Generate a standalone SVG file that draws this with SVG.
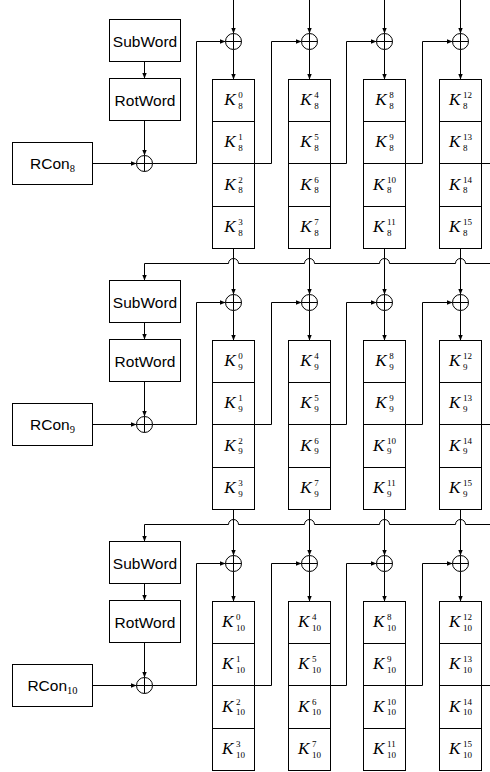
<svg xmlns="http://www.w3.org/2000/svg" width="490" height="772" viewBox="0 0 490 772">
<style>
.bx{fill:#fff;stroke:#000;stroke-width:1}
.ln{fill:none;stroke:#000;stroke-width:1}
.ar{marker-end:url(#ah)}
.sf{font-family:"Liberation Sans",Arial,sans-serif;font-size:15.5px;fill:#000;text-anchor:middle}
.sb{font-family:"Liberation Serif","Times New Roman",serif;font-size:10.5px}
.k{font-family:"Liberation Serif","Times New Roman",serif;font-style:italic;font-size:17px;fill:#000}
.s{font-style:normal;font-size:9px}
</style>
<defs>
<marker id="ah" viewBox="0 0 6 6" refX="6" refY="3" markerWidth="6" markerHeight="6" markerUnits="userSpaceOnUse" orient="auto"><path d="M0,0.6 L6,3 L0,5.4 z" fill="#000"/></marker>
<g id="xorsym"><circle r="8" class="bx"/><path class="ln" d="M-8,0H8M0,-8V8"/></g>
</defs>
<rect width="490" height="772" fill="#fff"/>

<g id="connectors">
 <g id="conn-r8">
  <path class="ln ar" d="M233.5,0V33.5"/>
  <path class="ln ar" d="M309.5,0V33.5"/>
  <path class="ln ar" d="M384.5,0V33.5"/>
  <path class="ln ar" d="M460.5,0V33.5"/>
 </g>
 <g id="conn-r9-in" transform="translate(0,261)">
  <path class="ln ar" d="M233.5,-12.5V33.5"/>
  <path class="ln ar" d="M309.5,-12.5V33.5"/>
  <path class="ln ar" d="M384.5,-12.5V33.5"/>
  <path class="ln ar" d="M460.5,-12.5V33.5"/>
  <path class="ln ar" d="M490,2.5H465.5A5,5 0 0 0 455.5,2.5H389.5A5,5 0 0 0 379.5,2.5H314.5A5,5 0 0 0 304.5,2.5H238.5A5,5 0 0 0 228.5,2.5H144.5V19.5"/>
 </g>
 <g id="conn-r10-in" transform="translate(0,522)">
  <path class="ln ar" d="M233.5,-12.5V33.5"/>
  <path class="ln ar" d="M309.5,-12.5V33.5"/>
  <path class="ln ar" d="M384.5,-12.5V33.5"/>
  <path class="ln ar" d="M460.5,-12.5V33.5"/>
  <path class="ln ar" d="M490,2.5H465.5A5,5 0 0 0 455.5,2.5H389.5A5,5 0 0 0 379.5,2.5H314.5A5,5 0 0 0 304.5,2.5H238.5A5,5 0 0 0 228.5,2.5H144.5V19.5"/>
 </g>
 <g id="conn-r8-body">
  <path class="ln ar" d="M144.5,61.5V78.5"/>
  <path class="ln ar" d="M144.5,120.5V155.5"/>
  <path class="ln ar" d="M92.5,163.5H136.5"/>
  <path class="ln ar" d="M152.5,163.5H196.5V41.5H225.5"/>
  <path class="ln ar" d="M254.5,163.5H271.5V41.5H301.5"/>
  <path class="ln ar" d="M330.5,163.5H346.5V41.5H376.5"/>
  <path class="ln ar" d="M405.5,163.5H422.5V41.5H452.5"/>
  <path class="ln" d="M481.5,163.5H490"/>
  <path class="ln ar" d="M233.5,49.5V79.5"/>
  <path class="ln ar" d="M309.5,49.5V79.5"/>
  <path class="ln ar" d="M384.5,49.5V79.5"/>
  <path class="ln ar" d="M460.5,49.5V79.5"/>
 </g>
 <g id="conn-r9-body" transform="translate(0,261)">
  <path class="ln ar" d="M144.5,61.5V78.5"/>
  <path class="ln ar" d="M144.5,120.5V155.5"/>
  <path class="ln ar" d="M92.5,163.5H136.5"/>
  <path class="ln ar" d="M152.5,163.5H196.5V41.5H225.5"/>
  <path class="ln ar" d="M254.5,163.5H271.5V41.5H301.5"/>
  <path class="ln ar" d="M330.5,163.5H346.5V41.5H376.5"/>
  <path class="ln ar" d="M405.5,163.5H422.5V41.5H452.5"/>
  <path class="ln" d="M481.5,163.5H490"/>
  <path class="ln ar" d="M233.5,49.5V79.5"/>
  <path class="ln ar" d="M309.5,49.5V79.5"/>
  <path class="ln ar" d="M384.5,49.5V79.5"/>
  <path class="ln ar" d="M460.5,49.5V79.5"/>
 </g>
 <g id="conn-r10-body" transform="translate(0,522)">
  <path class="ln ar" d="M144.5,61.5V78.5"/>
  <path class="ln ar" d="M144.5,120.5V155.5"/>
  <path class="ln ar" d="M92.5,163.5H136.5"/>
  <path class="ln ar" d="M152.5,163.5H196.5V41.5H225.5"/>
  <path class="ln ar" d="M254.5,163.5H271.5V41.5H301.5"/>
  <path class="ln ar" d="M330.5,163.5H346.5V41.5H376.5"/>
  <path class="ln ar" d="M405.5,163.5H422.5V41.5H452.5"/>
  <path class="ln" d="M481.5,163.5H490"/>
  <path class="ln ar" d="M233.5,49.5V79.5"/>
  <path class="ln ar" d="M309.5,49.5V79.5"/>
  <path class="ln ar" d="M384.5,49.5V79.5"/>
  <path class="ln ar" d="M460.5,49.5V79.5"/>
 </g>
</g>

<!-- Round 8 -->
<g id="round8">
 <g id="subword-8"><rect class="bx" x="109.5" y="19.5" width="71" height="42"/><text class="sf" x="145" y="46.5">SubWord</text></g>
 <g id="rotword-8"><rect class="bx" x="109.5" y="78.5" width="71" height="42"/><text class="sf" x="145" y="105.5">RotWord</text></g>
 <g id="rcon-8"><rect class="bx" x="12.5" y="142.5" width="80" height="42"/><text class="sf" x="52.5" y="169">RCon<tspan class="sb" dy="2.5">8</tspan></text></g>
 <g id="xor-8-r"><use href="#xorsym" x="144.5" y="163.5"/></g>
 <g id="xor-8-0"><use href="#xorsym" x="233.5" y="41.5"/></g>
 <g id="xor-8-1"><use href="#xorsym" x="309.5" y="41.5"/></g>
 <g id="xor-8-2"><use href="#xorsym" x="384.5" y="41.5"/></g>
 <g id="xor-8-3"><use href="#xorsym" x="460.5" y="41.5"/></g>
 <g id="k8-0"><rect class="bx" x="212.5" y="79.5" width="42" height="42"/><text class="k" x="224.25" y="105">K<tspan class="s" x="238.25" y="98">0</tspan><tspan class="s" x="238.25" y="108.5">8</tspan></text></g>
 <g id="k8-1"><rect class="bx" x="212.5" y="121.5" width="42" height="42"/><text class="k" x="224.25" y="147">K<tspan class="s" x="238.25" y="140">1</tspan><tspan class="s" x="238.25" y="150.5">8</tspan></text></g>
 <g id="k8-2"><rect class="bx" x="212.5" y="163.5" width="42" height="43"/><text class="k" x="224.25" y="189.5">K<tspan class="s" x="238.25" y="182.5">2</tspan><tspan class="s" x="238.25" y="193">8</tspan></text></g>
 <g id="k8-3"><rect class="bx" x="212.5" y="206.5" width="42" height="42"/><text class="k" x="224.25" y="232">K<tspan class="s" x="238.25" y="225">3</tspan><tspan class="s" x="238.25" y="235.5">8</tspan></text></g>
 <g id="k8-4"><rect class="bx" x="288.5" y="79.5" width="42" height="42"/><text class="k" x="300.25" y="105">K<tspan class="s" x="314.25" y="98">4</tspan><tspan class="s" x="314.25" y="108.5">8</tspan></text></g>
 <g id="k8-5"><rect class="bx" x="288.5" y="121.5" width="42" height="42"/><text class="k" x="300.25" y="147">K<tspan class="s" x="314.25" y="140">5</tspan><tspan class="s" x="314.25" y="150.5">8</tspan></text></g>
 <g id="k8-6"><rect class="bx" x="288.5" y="163.5" width="42" height="43"/><text class="k" x="300.25" y="189.5">K<tspan class="s" x="314.25" y="182.5">6</tspan><tspan class="s" x="314.25" y="193">8</tspan></text></g>
 <g id="k8-7"><rect class="bx" x="288.5" y="206.5" width="42" height="42"/><text class="k" x="300.25" y="232">K<tspan class="s" x="314.25" y="225">7</tspan><tspan class="s" x="314.25" y="235.5">8</tspan></text></g>
 <g id="k8-8"><rect class="bx" x="363.5" y="79.5" width="42" height="42"/><text class="k" x="375.25" y="105">K<tspan class="s" x="389.25" y="98">8</tspan><tspan class="s" x="389.25" y="108.5">8</tspan></text></g>
 <g id="k8-9"><rect class="bx" x="363.5" y="121.5" width="42" height="42"/><text class="k" x="375.25" y="147">K<tspan class="s" x="389.25" y="140">9</tspan><tspan class="s" x="389.25" y="150.5">8</tspan></text></g>
 <g id="k8-10"><rect class="bx" x="363.5" y="163.5" width="42" height="43"/><text class="k" x="373" y="189.5">K<tspan class="s" x="387" y="182.5">10</tspan><tspan class="s" x="387" y="193">8</tspan></text></g>
 <g id="k8-11"><rect class="bx" x="363.5" y="206.5" width="42" height="42"/><text class="k" x="373" y="232">K<tspan class="s" x="387" y="225">11</tspan><tspan class="s" x="387" y="235.5">8</tspan></text></g>
 <g id="k8-12"><rect class="bx" x="439.5" y="79.5" width="42" height="42"/><text class="k" x="449" y="105">K<tspan class="s" x="463" y="98">12</tspan><tspan class="s" x="463" y="108.5">8</tspan></text></g>
 <g id="k8-13"><rect class="bx" x="439.5" y="121.5" width="42" height="42"/><text class="k" x="449" y="147">K<tspan class="s" x="463" y="140">13</tspan><tspan class="s" x="463" y="150.5">8</tspan></text></g>
 <g id="k8-14"><rect class="bx" x="439.5" y="163.5" width="42" height="43"/><text class="k" x="449" y="189.5">K<tspan class="s" x="463" y="182.5">14</tspan><tspan class="s" x="463" y="193">8</tspan></text></g>
 <g id="k8-15"><rect class="bx" x="439.5" y="206.5" width="42" height="42"/><text class="k" x="449" y="232">K<tspan class="s" x="463" y="225">15</tspan><tspan class="s" x="463" y="235.5">8</tspan></text></g>
</g>

<!-- Round 9 -->
<g id="round9" transform="translate(0,261)">
 <g id="subword-9"><rect class="bx" x="109.5" y="19.5" width="71" height="42"/><text class="sf" x="145" y="46.5">SubWord</text></g>
 <g id="rotword-9"><rect class="bx" x="109.5" y="78.5" width="71" height="42"/><text class="sf" x="145" y="105.5">RotWord</text></g>
 <g id="rcon-9"><rect class="bx" x="12.5" y="142.5" width="80" height="42"/><text class="sf" x="52.5" y="169">RCon<tspan class="sb" dy="2.5">9</tspan></text></g>
 <g id="xor-9-r"><use href="#xorsym" x="144.5" y="163.5"/></g>
 <g id="xor-9-0"><use href="#xorsym" x="233.5" y="41.5"/></g>
 <g id="xor-9-1"><use href="#xorsym" x="309.5" y="41.5"/></g>
 <g id="xor-9-2"><use href="#xorsym" x="384.5" y="41.5"/></g>
 <g id="xor-9-3"><use href="#xorsym" x="460.5" y="41.5"/></g>
 <g id="k9-0"><rect class="bx" x="212.5" y="79.5" width="42" height="42"/><text class="k" x="224.25" y="105">K<tspan class="s" x="238.25" y="98">0</tspan><tspan class="s" x="238.25" y="108.5">9</tspan></text></g>
 <g id="k9-1"><rect class="bx" x="212.5" y="121.5" width="42" height="42"/><text class="k" x="224.25" y="147">K<tspan class="s" x="238.25" y="140">1</tspan><tspan class="s" x="238.25" y="150.5">9</tspan></text></g>
 <g id="k9-2"><rect class="bx" x="212.5" y="163.5" width="42" height="43"/><text class="k" x="224.25" y="189.5">K<tspan class="s" x="238.25" y="182.5">2</tspan><tspan class="s" x="238.25" y="193">9</tspan></text></g>
 <g id="k9-3"><rect class="bx" x="212.5" y="206.5" width="42" height="42"/><text class="k" x="224.25" y="232">K<tspan class="s" x="238.25" y="225">3</tspan><tspan class="s" x="238.25" y="235.5">9</tspan></text></g>
 <g id="k9-4"><rect class="bx" x="288.5" y="79.5" width="42" height="42"/><text class="k" x="300.25" y="105">K<tspan class="s" x="314.25" y="98">4</tspan><tspan class="s" x="314.25" y="108.5">9</tspan></text></g>
 <g id="k9-5"><rect class="bx" x="288.5" y="121.5" width="42" height="42"/><text class="k" x="300.25" y="147">K<tspan class="s" x="314.25" y="140">5</tspan><tspan class="s" x="314.25" y="150.5">9</tspan></text></g>
 <g id="k9-6"><rect class="bx" x="288.5" y="163.5" width="42" height="43"/><text class="k" x="300.25" y="189.5">K<tspan class="s" x="314.25" y="182.5">6</tspan><tspan class="s" x="314.25" y="193">9</tspan></text></g>
 <g id="k9-7"><rect class="bx" x="288.5" y="206.5" width="42" height="42"/><text class="k" x="300.25" y="232">K<tspan class="s" x="314.25" y="225">7</tspan><tspan class="s" x="314.25" y="235.5">9</tspan></text></g>
 <g id="k9-8"><rect class="bx" x="363.5" y="79.5" width="42" height="42"/><text class="k" x="375.25" y="105">K<tspan class="s" x="389.25" y="98">8</tspan><tspan class="s" x="389.25" y="108.5">9</tspan></text></g>
 <g id="k9-9"><rect class="bx" x="363.5" y="121.5" width="42" height="42"/><text class="k" x="375.25" y="147">K<tspan class="s" x="389.25" y="140">9</tspan><tspan class="s" x="389.25" y="150.5">9</tspan></text></g>
 <g id="k9-10"><rect class="bx" x="363.5" y="163.5" width="42" height="43"/><text class="k" x="373" y="189.5">K<tspan class="s" x="387" y="182.5">10</tspan><tspan class="s" x="387" y="193">9</tspan></text></g>
 <g id="k9-11"><rect class="bx" x="363.5" y="206.5" width="42" height="42"/><text class="k" x="373" y="232">K<tspan class="s" x="387" y="225">11</tspan><tspan class="s" x="387" y="235.5">9</tspan></text></g>
 <g id="k9-12"><rect class="bx" x="439.5" y="79.5" width="42" height="42"/><text class="k" x="449" y="105">K<tspan class="s" x="463" y="98">12</tspan><tspan class="s" x="463" y="108.5">9</tspan></text></g>
 <g id="k9-13"><rect class="bx" x="439.5" y="121.5" width="42" height="42"/><text class="k" x="449" y="147">K<tspan class="s" x="463" y="140">13</tspan><tspan class="s" x="463" y="150.5">9</tspan></text></g>
 <g id="k9-14"><rect class="bx" x="439.5" y="163.5" width="42" height="43"/><text class="k" x="449" y="189.5">K<tspan class="s" x="463" y="182.5">14</tspan><tspan class="s" x="463" y="193">9</tspan></text></g>
 <g id="k9-15"><rect class="bx" x="439.5" y="206.5" width="42" height="42"/><text class="k" x="449" y="232">K<tspan class="s" x="463" y="225">15</tspan><tspan class="s" x="463" y="235.5">9</tspan></text></g>
</g>

<!-- Round 10 -->
<g id="round10" transform="translate(0,522)">
 <g id="subword-10"><rect class="bx" x="109.5" y="19.5" width="71" height="42"/><text class="sf" x="145" y="46.5">SubWord</text></g>
 <g id="rotword-10"><rect class="bx" x="109.5" y="78.5" width="71" height="42"/><text class="sf" x="145" y="105.5">RotWord</text></g>
 <g id="rcon-10"><rect class="bx" x="12.5" y="142.5" width="80" height="42"/><text class="sf" x="52.5" y="169">RCon<tspan class="sb" dy="2.5">10</tspan></text></g>
 <g id="xor-10-r"><use href="#xorsym" x="144.5" y="163.5"/></g>
 <g id="xor-10-0"><use href="#xorsym" x="233.5" y="41.5"/></g>
 <g id="xor-10-1"><use href="#xorsym" x="309.5" y="41.5"/></g>
 <g id="xor-10-2"><use href="#xorsym" x="384.5" y="41.5"/></g>
 <g id="xor-10-3"><use href="#xorsym" x="460.5" y="41.5"/></g>
 <g id="k10-0"><rect class="bx" x="212.5" y="79.5" width="42" height="42"/><text class="k" x="222" y="105">K<tspan class="s" x="236" y="98">0</tspan><tspan class="s" x="236" y="108.5">10</tspan></text></g>
 <g id="k10-1"><rect class="bx" x="212.5" y="121.5" width="42" height="42"/><text class="k" x="222" y="147">K<tspan class="s" x="236" y="140">1</tspan><tspan class="s" x="236" y="150.5">10</tspan></text></g>
 <g id="k10-2"><rect class="bx" x="212.5" y="163.5" width="42" height="43"/><text class="k" x="222" y="189.5">K<tspan class="s" x="236" y="182.5">2</tspan><tspan class="s" x="236" y="193">10</tspan></text></g>
 <g id="k10-3"><rect class="bx" x="212.5" y="206.5" width="42" height="42"/><text class="k" x="222" y="232">K<tspan class="s" x="236" y="225">3</tspan><tspan class="s" x="236" y="235.5">10</tspan></text></g>
 <g id="k10-4"><rect class="bx" x="288.5" y="79.5" width="42" height="42"/><text class="k" x="298" y="105">K<tspan class="s" x="312" y="98">4</tspan><tspan class="s" x="312" y="108.5">10</tspan></text></g>
 <g id="k10-5"><rect class="bx" x="288.5" y="121.5" width="42" height="42"/><text class="k" x="298" y="147">K<tspan class="s" x="312" y="140">5</tspan><tspan class="s" x="312" y="150.5">10</tspan></text></g>
 <g id="k10-6"><rect class="bx" x="288.5" y="163.5" width="42" height="43"/><text class="k" x="298" y="189.5">K<tspan class="s" x="312" y="182.5">6</tspan><tspan class="s" x="312" y="193">10</tspan></text></g>
 <g id="k10-7"><rect class="bx" x="288.5" y="206.5" width="42" height="42"/><text class="k" x="298" y="232">K<tspan class="s" x="312" y="225">7</tspan><tspan class="s" x="312" y="235.5">10</tspan></text></g>
 <g id="k10-8"><rect class="bx" x="363.5" y="79.5" width="42" height="42"/><text class="k" x="373" y="105">K<tspan class="s" x="387" y="98">8</tspan><tspan class="s" x="387" y="108.5">10</tspan></text></g>
 <g id="k10-9"><rect class="bx" x="363.5" y="121.5" width="42" height="42"/><text class="k" x="373" y="147">K<tspan class="s" x="387" y="140">9</tspan><tspan class="s" x="387" y="150.5">10</tspan></text></g>
 <g id="k10-10"><rect class="bx" x="363.5" y="163.5" width="42" height="43"/><text class="k" x="373" y="189.5">K<tspan class="s" x="387" y="182.5">10</tspan><tspan class="s" x="387" y="193">10</tspan></text></g>
 <g id="k10-11"><rect class="bx" x="363.5" y="206.5" width="42" height="42"/><text class="k" x="373" y="232">K<tspan class="s" x="387" y="225">11</tspan><tspan class="s" x="387" y="235.5">10</tspan></text></g>
 <g id="k10-12"><rect class="bx" x="439.5" y="79.5" width="42" height="42"/><text class="k" x="449" y="105">K<tspan class="s" x="463" y="98">12</tspan><tspan class="s" x="463" y="108.5">10</tspan></text></g>
 <g id="k10-13"><rect class="bx" x="439.5" y="121.5" width="42" height="42"/><text class="k" x="449" y="147">K<tspan class="s" x="463" y="140">13</tspan><tspan class="s" x="463" y="150.5">10</tspan></text></g>
 <g id="k10-14"><rect class="bx" x="439.5" y="163.5" width="42" height="43"/><text class="k" x="449" y="189.5">K<tspan class="s" x="463" y="182.5">14</tspan><tspan class="s" x="463" y="193">10</tspan></text></g>
 <g id="k10-15"><rect class="bx" x="439.5" y="206.5" width="42" height="42"/><text class="k" x="449" y="232">K<tspan class="s" x="463" y="225">15</tspan><tspan class="s" x="463" y="235.5">10</tspan></text></g>
</g>
</svg>
